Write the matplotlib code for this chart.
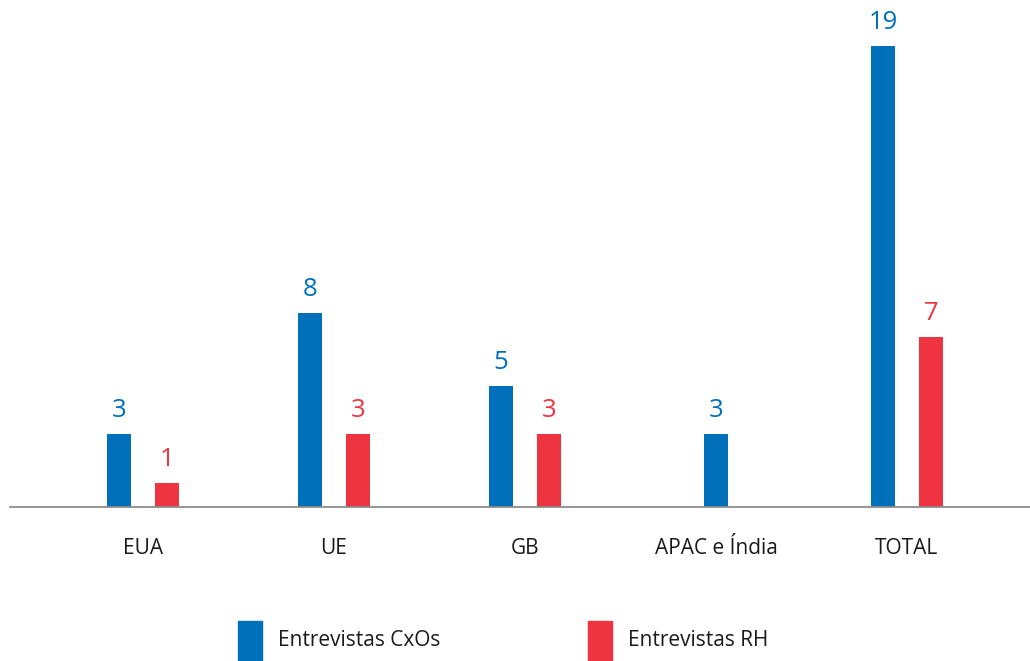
import matplotlib
matplotlib.use("Agg")
import matplotlib.pyplot as plt
from matplotlib.patches import Rectangle

categories = ["EUA", "UE", "GB", "APAC e Índia", "TOTAL"]
series_names = ["Entrevistas CxOs", "Entrevistas RH"]
cxo_values = [3, 8, 5, 3, 19]
rh_values = [1, 3, 3, None, 7]
colors = ["#0070BB", "#EE3440"]

plt.rcParams["font.family"] = ["Open Sans", "DejaVu Sans"]

W, H = 1030, 661
fig = plt.figure(figsize=(W / 100, H / 100), dpi=100)
ax = fig.add_axes([10 / W, (H - 507) / H, 1020 / W, 507 / H])
ax.set_xlim(-0.696, 4.644)
ax.set_ylim(0, 20.9)

bw = 0.126
off = 0.126
series = [cxo_values, rh_values]
for i in range(len(categories)):
    present = [s for s in range(2) if series[s][i] is not None]
    for s in present:
        v = series[s][i]
        if len(present) == 2:
            x = i + (-off if s == 0 else off)
        else:
            x = i
        ax.bar(x, v, width=bw, color=colors[s], zorder=2)
        ax.text(x, v + 0.45, str(v), ha="center", va="bottom",
                fontsize=18.5, color=colors[s])

for sp in ["top", "right", "left"]:
    ax.spines[sp].set_visible(False)
ax.spines["bottom"].set_color("#8c8c8c")
ax.spines["bottom"].set_linewidth(1.3)
ax.set_yticks([])
ax.set_xticks(range(len(categories)))
ax.set_xticklabels(categories, fontsize=15, color="#1a1a1a")
ax.tick_params(axis="x", length=0, pad=22)

# legend
leg_x = [238, 588]
for s, name in enumerate(series_names):
    fig.add_artist(Rectangle((leg_x[s] / W, 0), 24 / W, 40 / H,
                             transform=fig.transFigure, color=colors[s]))
    fig.text((leg_x[s] + 40) / W, (H - 640) / H, name, fontsize=15,
             color="#1a1a1a", va="center", ha="left")

fig.savefig("out.png", dpi=100)
